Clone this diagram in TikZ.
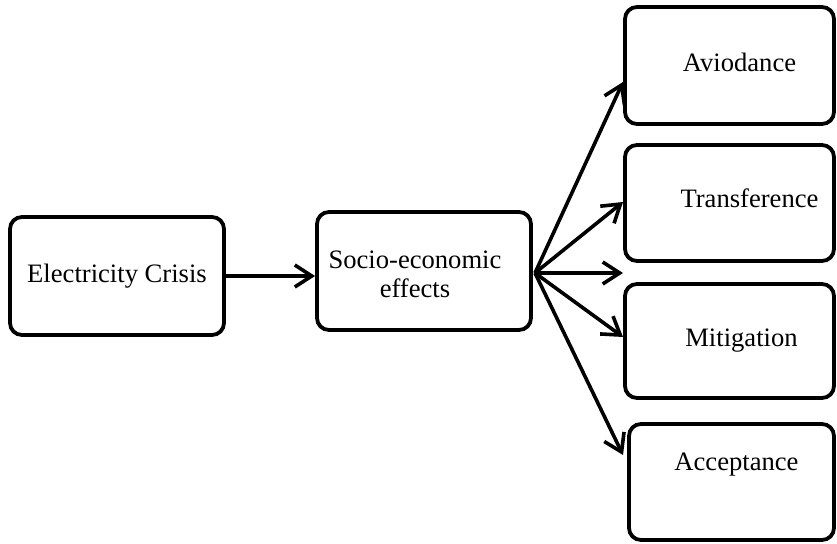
\documentclass[tikz,border=0pt]{standalone}
\usepackage{fontspec}
\setmainfont{Liberation Serif}
\usetikzlibrary{arrows.meta, positioning}

\tikzset{
    box/.style={draw, line width=1.9pt, rounded corners=6pt, inner sep=0pt},
    link/.style={line width=1.8pt, -{Straight Barb[length=8.5pt, width=11pt]}}
}

\begin{document}
\begin{tikzpicture}[x=0.5pt, y=-0.5pt, font=\fontsize{13.3}{14.5}\selectfont]
    \useasboundingbox (0,0) rectangle (837,544);

    % left part
    \node[box, minimum width=107pt, minimum height=59pt] (crisis) at (117,276) {Electricity Crisis};
    \node[box, minimum width=107pt, minimum height=59pt,
          label={[xshift=-4.5pt, yshift=-1.5pt, align=center]center:Socio-economic\\effects}] (socio) at (424,271) {};

    % the four responses
    \node[box, minimum width=104.5pt, minimum height=58.5pt,
          label={[xshift=5pt, yshift=1.5pt]center:Aviodance}] (avoid) at (729.5,65.5) {};
    \node[box, minimum width=104.5pt, minimum height=58pt,
          label={[xshift=10pt, yshift=2.5pt]center:Transference}] (transfer) at (729.5,203) {};
    \node[box, minimum width=104.5pt, minimum height=57pt,
          label={[xshift=6pt]center:Mitigation}] (mitigate) at (729.5,341) {};
    \node[box, minimum width=102.5pt, minimum height=58pt,
          label={[xshift=2.5pt, yshift=8.5pt]center:Acceptance}] (accept) at (731.5,482) {};

    % arrow ends
    \coordinate (fan) at (535,273);
    \coordinate (toavoid) at (623,82);
    \coordinate (totransfer) at (623,202);
    \coordinate (togap) at (623,273);
    \coordinate (tomitigate) at (623,337);
    \coordinate (toaccept) at (623,455);

    \draw[link] (crisis.east) -- (crisis.east -| socio.west);
    \foreach \t in {toavoid, totransfer, togap, tomitigate, toaccept} {
        \draw[link] (fan) -- (\t);
    }
\end{tikzpicture}
\end{document}
